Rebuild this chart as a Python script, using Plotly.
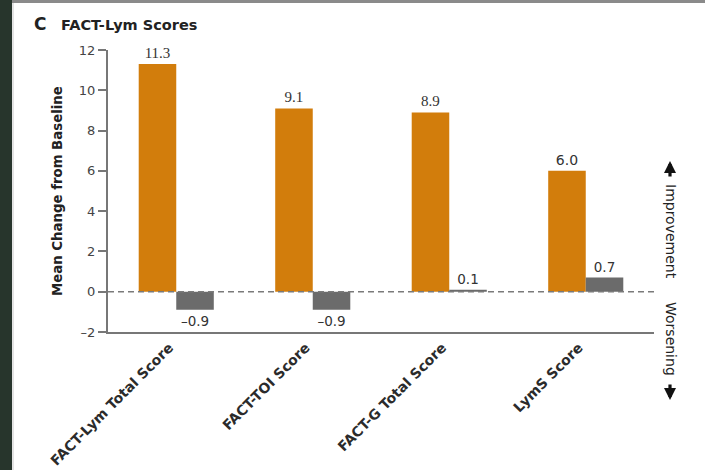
import plotly.graph_objects as go

# Mean change from baseline for each FACT-Lym measure
categories = ["FACT-Lym Total Score", "FACT-TOI Score", "FACT-G Total Score", "LymS Score"]
treatment_values = [11.3, 9.1, 8.9, 6.0]
control_values = [-0.9, -0.9, 0.1, 0.7]
y_ticks = [-2, 0, 2, 4, 6, 8, 10, 12]

W, H = 705, 470
L, R, T, B = 108, 51, 50, 138
plot_w = W - L - R
plot_h = H - T - B


def px_x(px):
    return (px - L) / plot_w


def px_y(py):
    return (H - B - py) / plot_h


ORANGE = "#D27D0C"
GRAY = "#6B6B6B"
AXIS = "#777777"
TEXT = "#2b2b2b"
SANS = "DejaVu Sans"
SERIF = "Liberation Serif"

fig = go.Figure()
fig.add_trace(go.Bar(
    x=categories, y=treatment_values, marker=dict(color=ORANGE, line=dict(width=0)),
    text=[f"{v:.1f}" for v in treatment_values], textposition="outside",
    textfont=dict(size=[15, 15, 15, 14], color="#333333", family=[SERIF, SERIF, SERIF, SANS]),
    cliponaxis=False, showlegend=False,
))
fig.add_trace(go.Bar(
    x=categories, y=control_values, marker=dict(color=GRAY, line=dict(width=0)),
    text=[f"{v:.1f}".replace("-", "\u2013") for v in control_values], textposition="outside",
    textfont=dict(size=13.5, color="#333333", family=SANS),
    cliponaxis=False, showlegend=False,
))

fig.update_layout(
    width=W, height=H,
    margin=dict(l=L, r=R, t=T, b=B, pad=0),
    paper_bgcolor="white", plot_bgcolor="white",
    barmode="group", bargap=0.45, bargroupgap=0,
    font=dict(family=SANS, color=TEXT),
    xaxis=dict(
        showline=True, linecolor=AXIS, linewidth=2, showgrid=False, ticks="",
        tickangle=-45, tickfont=dict(size=14, color=TEXT, family=SANS, weight="bold"),
        ticklabelshift=-7, zeroline=False, automargin=False,
    ),
    yaxis=dict(
        range=[-2, 12], tickvals=y_ticks,
        ticktext=[str(v).replace("-", "\u2013") for v in y_ticks],
        showline=True, linecolor=AXIS, linewidth=2, showgrid=False,
        ticks="outside", ticklen=8, tickwidth=2, tickcolor=AXIS,
        tickfont=dict(size=13, color="#444444", family=SANS),
        zeroline=False, automargin=False,
    ),
)

# Dashed baseline at zero
fig.add_shape(type="line", xref="paper", yref="y", x0=0, x1=1, y0=0, y1=0,
              line=dict(color="#7a7a7a", width=1.5, dash="6px,4px"), layer="above")

# Frame: dark strip on the left, thin gray rule on top
fig.add_shape(type="rect", xref="paper", yref="paper",
              x0=px_x(0), x1=px_x(12), y0=px_y(H), y1=px_y(0),
              fillcolor="#27352c", line=dict(width=0), layer="below")
fig.add_shape(type="line", xref="paper", yref="paper",
              x0=px_x(13), x1=px_x(13), y0=px_y(H), y1=px_y(0),
              line=dict(color="#c8c8c8", width=1), layer="below")
fig.add_shape(type="rect", xref="paper", yref="paper",
              x0=px_x(12), x1=px_x(W), y0=px_y(3), y1=px_y(0),
              fillcolor="#8a8a8a", line=dict(width=0), layer="below")

annotations = [
    dict(text="<b>C</b>", x=px_x(32), y=px_y(24), xanchor="left", yanchor="middle",
         font=dict(size=17, color="#222222", family=SANS)),
    dict(text="<b>FACT-Lym Scores</b>", x=px_x(59), y=px_y(25), xanchor="left", yanchor="middle",
         font=dict(size=14.5, color="#222222", family=SANS)),
    dict(text="<b>Mean Change from Baseline</b>", x=px_x(57), y=px_y(191), textangle=-90,
         xanchor="center", yanchor="middle", font=dict(size=13.3, color="#222222", family=SANS)),
    dict(text="Improvement", x=px_x(671), y=px_y(232), textangle=90,
         xanchor="center", yanchor="middle", font=dict(size=14, color="#222222", family=SANS)),
    dict(text="Worsening", x=px_x(671), y=px_y(339), textangle=90,
         xanchor="center", yanchor="middle", font=dict(size=14, color="#222222", family=SANS)),
]
# Direction arrows
annotations.append(dict(text="", x=px_x(670), y=px_y(161), ax=0, ay=17, showarrow=True,
                        arrowhead=2, arrowsize=0.75, arrowwidth=3.2, arrowcolor="#111111"))
annotations.append(dict(text="", x=px_x(670), y=px_y(400), ax=0, ay=-17, showarrow=True,
                        arrowhead=2, arrowsize=0.75, arrowwidth=3.2, arrowcolor="#111111"))
for a in annotations:
    a.setdefault("xref", "paper")
    a.setdefault("yref", "paper")
    a.setdefault("showarrow", False)
fig.update_layout(annotations=annotations)

fig.write_html("out.html")
